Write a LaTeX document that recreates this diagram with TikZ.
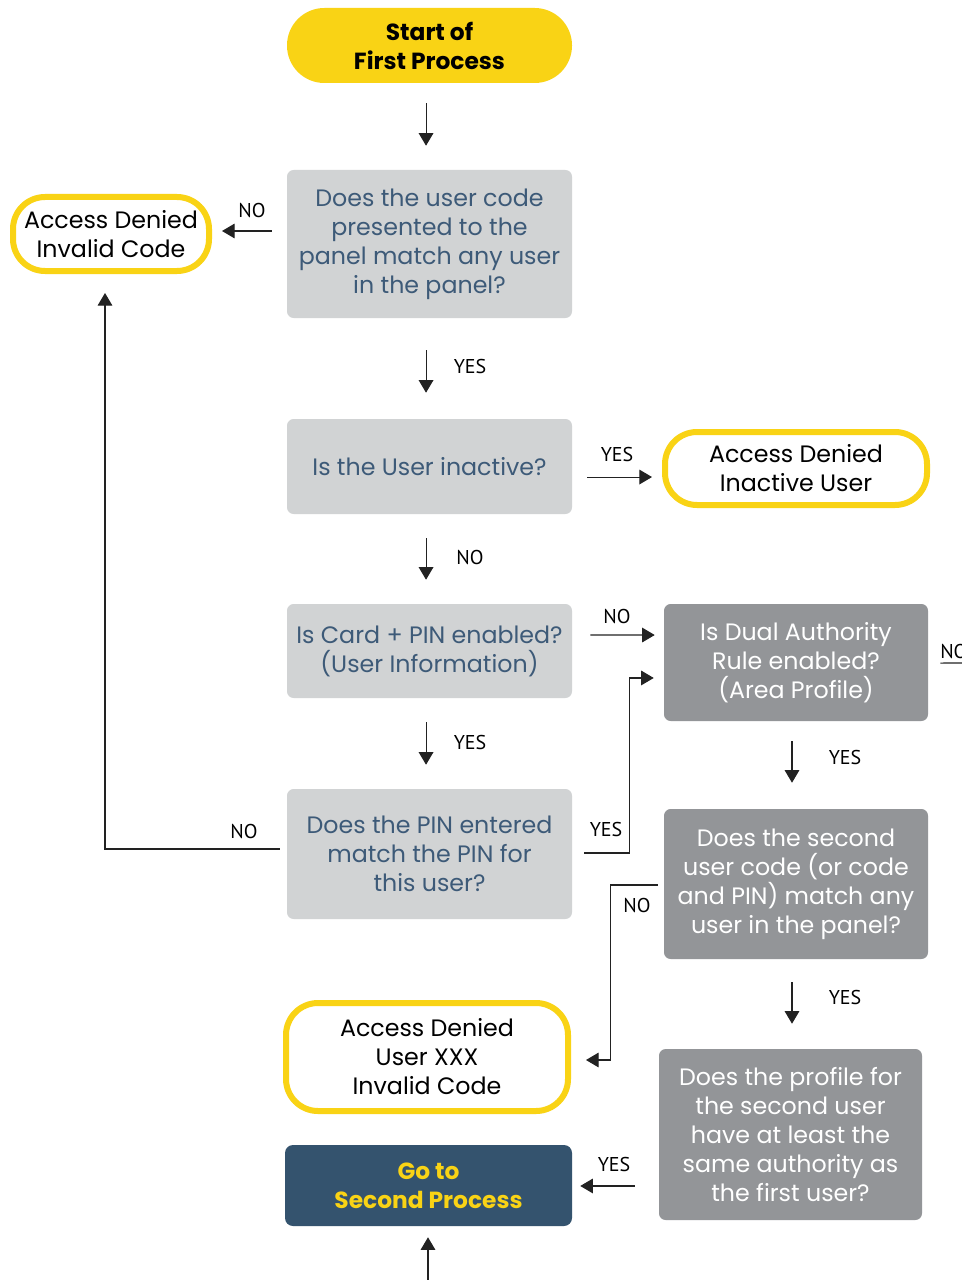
\documentclass[tikz,border=0pt]{standalone}
\usepackage{fontspec}
\setmainfont{Poppins}
\newfontfamily\lblfont{PT Sans}
\usetikzlibrary{arrows.meta}
\definecolor{cyel}{HTML}{F9D315}
\definecolor{clgray}{HTML}{D1D3D4}
\definecolor{cdgray}{HTML}{939598}
\definecolor{cnavy}{HTML}{34536E}
\definecolor{cslate}{HTML}{3D5A78}
\definecolor{cline}{HTML}{222222}
\tikzset{
  base/.style={align=center, font=\fontsize{17.8}{21.75}\selectfont, inner sep=0pt},
  startbox/.style={base, fill=cyel, rounded corners=28pt, font=\fontsize{17.5}{21.75}\selectfont\bfseries, text=black},
  qlight/.style={base, fill=clgray, rounded corners=5pt, text=cslate},
  qdark/.style={base, fill=cdgray, rounded corners=5pt, text=white},
  denied/.style={base, draw=cyel, line width=4.5pt, fill=white, rounded corners=24pt, text=black},
  gobox/.style={base, fill=cnavy, rounded corners=6pt, text=cyel, font=\fontsize{17.5}{21.75}\selectfont\bfseries},
  conn/.style={draw=cline, line width=0.8pt},
  arr/.style={conn, -{Triangle[length=9.5pt, width=11pt]}},
  lbl/.style={font=\lblfont\fontsize{15}{17}\selectfont, text=black, inner sep=0pt}
}
\begin{document}
\begin{tikzpicture}[x=0.75pt, y=-0.75pt]
\clip (0,0) rectangle (962,1280);
\fill[white] (0,0) rectangle (962,1280);

% nodes
\node[startbox, minimum width=213.75pt, minimum height=56.25pt] (start) at (429.5,45.5) {Start of\\First Process};
\node[qlight, minimum width=213.75pt, minimum height=111pt] (q1) at (429.5,244) {Does the user code\\presented to the\\panel match any user\\in the panel?};
\node[denied, minimum width=147pt, minimum height=55.5pt] (d1) at (111,234) {Access Denied\\Invalid Code};
\node[qlight, minimum width=213.75pt, minimum height=71.25pt] (q2) at (429.5,466.5) {Is the User inactive?};
\node[denied, minimum width=196.5pt, minimum height=54.75pt] (d2) at (796,468.5) {Access Denied\\Inactive User};
\node[qlight, minimum width=213.75pt, minimum height=70.5pt] (q3) at (429.5,651) {Is Card + PIN enabled?\\(User Information)};
\node[qdark, minimum width=198pt, minimum height=87.75pt] (dual) at (796,662.5) {Is Dual Authority\\Rule enabled?\\(Area Profile)};
\node[qlight, minimum width=213.75pt, minimum height=97.5pt] (q4) at (429.5,854) {Does the PIN entered\\match the PIN for\\this user?};
\node[qdark, minimum width=198pt, minimum height=112.5pt] (q5) at (796,884) {Does the second\\user code (or code\\and PIN) match any\\user in the panel?};
\node[qdark, minimum width=197.25pt, minimum height=128.25pt] (q6) at (790.5,1134.5) {Does the profile for\\the second user\\have at least the\\same authority as\\the first user?};
\node[denied, minimum width=211.5pt, minimum height=81pt] (d3) at (427,1057) {Access Denied\\User XXX\\Invalid Code};
\node[gobox, minimum width=215.25pt, minimum height=60.75pt] (go) at (428.5,1185.5) {Go to\\Second Process};

\coordinate (bot) at (428,1290);
\coordinate (offr) at (1000,663);

% connectors
\draw[arr, shorten <=15pt, shorten >=18pt] ([xshift=-2.6pt]start.south) -- ([xshift=-2.6pt]q1.north);
\draw[arr, shorten <=11.25pt, shorten >=7.5pt] ([yshift=9.75pt]q1.west) -- ([yshift=2.25pt]d1.east);
\draw[arr, shorten <=24pt, shorten >=19.5pt] ([xshift=-2.6pt]q1.south) -- ([xshift=-2.6pt]q2.north);
\draw[arr, shorten <=11.25pt, shorten >=7.5pt] ([yshift=-7.9pt]q2.east) -- ([yshift=-6.4pt]d2.west);
\draw[arr, shorten <=18pt, shorten >=18pt] ([xshift=-2.6pt]q2.south) -- ([xshift=-2.6pt]q3.north);
\draw[arr, shorten <=13.5pt, shorten >=6.75pt] ([yshift=12pt]q3.east) -- ([yshift=20.6pt]dual.west);
\draw[arr, shorten <=18pt, shorten >=18pt] ([xshift=-2.6pt]q3.south) -- ([xshift=-2.6pt]q4.north);
\draw[arr, shorten <=15pt, shorten >=19.5pt] ([xshift=-3pt]dual.south) -- ([xshift=-3pt]q5.north);
\draw[arr, shorten <=17.25pt, shorten >=18.75pt] ([xshift=-3pt]q5.south) -- ([xshift=-3pt]q5.south |- q6.north);
\draw[arr, shorten <=18pt, shorten >=6pt] ([yshift=-38.6pt]q6.west) -- ([yshift=-38.6pt]q6.west -| go.east);
\draw[arr, shorten >=8.25pt] (bot) -- (bot |- go.south);
\draw[arr, shorten <=5.25pt, shorten >=14.25pt] ([yshift=3.75pt]q4.west) -| ([xshift=-4.5pt]d1.south);
\draw[arr, shorten <=9pt, shorten >=7.5pt] ([yshift=0.75pt]q4.east) -- ++(57,0) |- ([yshift=-11.6pt]dual.west);
\draw[arr, shorten <=4.5pt, shorten >=11.25pt] ([yshift=-0.75pt]q5.west) -- ++(-53,0) |- ([yshift=-2.25pt]d3.east);
\draw[conn, shorten <=9pt] ([yshift=-0.4pt]dual.east) -- (offr);

% labels
\node[lbl] (l1) at (252,211) {NO};
\node[lbl] (l2) at (470,366) {YES};
\node[lbl] (l3) at (617,454) {YES};
\node[lbl] (l4) at (470,557) {NO};
\node[lbl] (l5) at (617,616) {NO};
\node[lbl] (l6) at (470,742) {YES};
\node[lbl] (l7) at (845,757) {YES};
\node[lbl] (l8) at (244,831) {NO};
\node[lbl] (l9) at (606,829) {YES};
\node[lbl] (l10) at (637,905) {NO};
\node[lbl] (l11) at (845,997) {YES};
\node[lbl] (l12) at (614,1164) {YES};
\node[lbl, anchor=west] (l13) at (940,651) {NO};
\end{tikzpicture}
\end{document}
